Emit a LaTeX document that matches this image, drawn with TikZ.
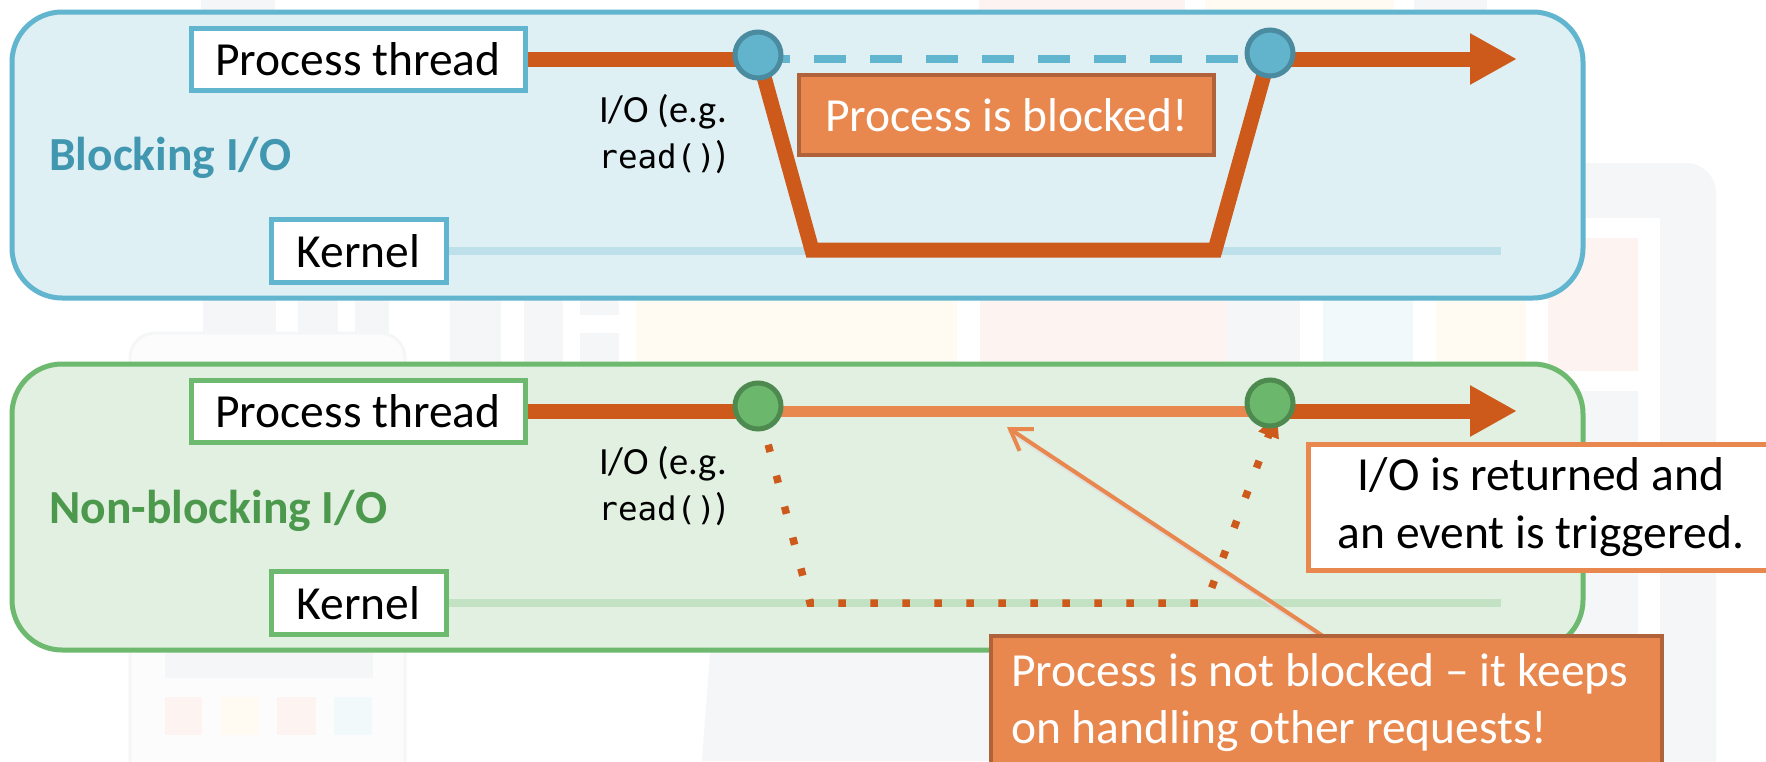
\documentclass[tikz,border=0pt]{standalone}
\usepackage{fontspec}
\setmainfont{Carlito}
\newfontfamily\monof{DejaVu Sans Mono}
\usetikzlibrary{arrows.meta}
\definecolor{pblue}{HTML}{62B5CE}
\definecolor{pbluefill}{HTML}{DFF0F4}
\definecolor{cblue}{HTML}{62B4CC}
\definecolor{cbluedark}{HTML}{4A8BA0}
\definecolor{pgreen}{HTML}{6DB96F}
\definecolor{pgreenfill}{HTML}{E1F0E1}
\definecolor{cgreen}{HTML}{6BB86C}
\definecolor{cgreendark}{HTML}{4E8A50}
\definecolor{dorange}{HTML}{CD5A1B}
\definecolor{lorange}{HTML}{E8884F}
\definecolor{borange}{HTML}{B0623A}
\definecolor{tblue}{HTML}{4197AF}
\definecolor{tgreen}{HTML}{4C994E}
\definecolor{kblue}{HTML}{BEE0EA}
\definecolor{kgreen}{HTML}{C3E2C4}
\definecolor{wmgray}{HTML}{F5F6F8}
\definecolor{wmcream}{HTML}{FFFBF2}
\definecolor{wmpink}{HTML}{FDF4F2}
\definecolor{wmblue}{HTML}{F1F9FB}
\definecolor{wmwhite}{HTML}{FCFCFC}
\pgfdeclarelayer{back}
\pgfdeclarelayer{lines}
\pgfsetlayers{back,lines,main}
\tikzset{
  bigfont/.style={font=\fontsize{47.5}{58}\selectfont},
  panel/.style={rounded corners=50pt, line width=5pt, inner sep=0pt},
  lbl/.style={draw, fill=white, line width=5pt, inner sep=0pt, bigfont},
  circ/.style={circle, minimum size=46pt, inner sep=0pt, line width=5pt},
  thick line/.style={dorange, line width=15pt},
  kline/.style={line width=8pt},
  obox/.style={draw=borange, fill=lorange, line width=4pt, text=white, bigfont},
  sidelabel/.style={font=\bfseries\fontsize{47.5}{56}\selectfont, anchor=base west, inner sep=0pt},
  iotext/.style={align=center, font=\fontsize{38.5}{46}\selectfont, inner sep=0pt},
}
\newcommand{\readcall}{{\monof\fontsize{32.5}{46}\selectfont read()}}
\begin{document}
\begin{tikzpicture}[x=1pt, y=-1pt]
\useasboundingbox (0,0) rectangle (1766,761);
\clip (0,0) rectangle (1766,761);
\begin{pgfonlayer}{back}
  \fill[white] (0,0) rectangle (1766,761);
  % faint background watermark
  \fill[wmgray] (201,0) rectangle (275,40);
  \fill[wmpink] (979,0) rectangle (1185,40);
  \fill[wmcream] (1205,0) rectangle (1394,40);
  \fill[wmgray] (1414,0) rectangle (1487,40);
  \fill[wmgray] (203,290) rectangle (276,380);
  \fill[wmgray] (298,290) rectangle (338,380);
  \fill[wmgray] (355,290) rectangle (389,380);
  \fill[wmgray] (450,290) rectangle (501,380);
  \fill[wmgray] (524,290) rectangle (563,380);
  \fill[wmgray] (580,290) rectangle (619,380);
  \fill[white] (580,315) rectangle (619,333);
  \fill[wmcream] (636,290) rectangle (957,380);
  \fill[wmpink] (980,290) rectangle (1227,380);
  \fill[wmgray] (1227,290) rectangle (1300,380);
  \fill[wmblue] (1323,290) rectangle (1413,380);
  \fill[wmcream] (1436,290) rectangle (1526,761);
  \fill[wmgray, rounded corners=30pt] (1547,163) rectangle (1716,800);
  \fill[white] (1527,218) rectangle (1660,800);
  \fill[wmpink] (1548,238) rectangle (1638,371);
  \fill[wmgray] (1548,391) rectangle (1638,800);
  \fill[wmgray] (711,640) -- (1716,640) -- (1716,761) -- (702,761) -- cycle;
  \filldraw[fill=wmwhite, draw=wmgray, line width=3pt, rounded corners=25pt] (130,333) rectangle (405,790);
  \fill[wmgray] (165,600) rectangle (373,678);
  \fill[wmpink] (165,697) rectangle (202,735);
  \fill[wmcream] (221,697) rectangle (259,735);
  \fill[wmpink] (277,697) rectangle (316,735);
  \fill[wmblue] (334,697) rectangle (372,735);
  % panels
  \node[panel, draw=pblue, fill=pbluefill, minimum width=1571pt, minimum height=286pt] (toppanel) at (797.5,155) {};
  \node[panel, draw=pgreen, fill=pgreenfill, minimum width=1571pt, minimum height=286pt] (botpanel) at (797.5,507) {};
\end{pgfonlayer}

% ---------- Blocking I/O ----------
\node[lbl, draw=pblue, minimum width=334pt, minimum height=62pt] (pt1) at (358,59) {Process thread};
\node[lbl, draw=pblue, minimum width=175pt, minimum height=63pt] (k1) at (358.5,251) {Kernel};
\node[sidelabel, text=tblue] (bl) at (49,170) {Blocking I/O};
\node[iotext] (io1) at (663,134) {I/O (e.g.\\\readcall)};
\node[circ, draw=cbluedark, fill=cblue] (c1) at (758,55) {};
\node[circ, draw=cbluedark, fill=cblue] (c2) at (1270,53) {};
\node[obox, minimum width=415pt, minimum height=80pt] (blk) at (1006.5,115) {Process is blocked!};
\coordinate (e1) at (1517,59);
\coordinate (kend1) at (1501,251);
\coordinate (b1) at (812,250);
\coordinate (b2) at (1215,250);

% ---------- Non-blocking I/O ----------
\node[lbl, draw=pgreen, minimum width=334pt, minimum height=62pt] (pt2) at (358,411) {Process thread};
\node[lbl, draw=pgreen, minimum width=175pt, minimum height=63pt] (k2) at (358.5,603) {Kernel};
\node[sidelabel, text=tgreen] (nbl) at (49,523) {Non-blocking I/O};
\node[iotext] (io2) at (663,486) {I/O (e.g.\\\readcall)};
\node[circ, draw=cgreendark, fill=cgreen] (c3) at (758,406) {};
\node[circ, draw=cgreendark, fill=cgreen] (c4) at (1270,403) {};
\coordinate (e2) at (1517,411);
\coordinate (kend2) at (1501,603);
\coordinate (d1) at (810,603);
\coordinate (d2) at (1206,603);
\coordinate (d3) at (1277,413);

\node[draw=lorange, fill=white, line width=5pt, minimum width=466pt, minimum height=126pt, align=center, bigfont, inner sep=0pt] (ret) at (1541,507) {I/O is returned and\\an event is triggered.};
\node[obox, anchor=north west, minimum width=671pt, minimum height=150pt, inner sep=0pt] (nb) at (989,634) {};
\node[anchor=north west, align=left, inner sep=0pt, text=white, font=\fontsize{47.5}{57}\selectfont] (nbtext) at (1011,653) {Process is not blocked – it keeps\\on handling other requests!};
\coordinate (pstart) at (1323,636);
\coordinate (ptip) at (1007,427);

\begin{pgfonlayer}{lines}
  % blocking
  \draw[kblue, kline] (k1.east) -- (kend1);
  \draw[thick line] (pt1.east) -- (pt1.east -| c1.center);
  \draw[pblue, line width=8pt, dash pattern=on 32pt off 24pt] (c1.center |- pt1.east) -- (c2.center |- pt1.east);
  \draw[thick line, line join=miter] (c1.center) -- (b1) -- (b2) -- (c2.center);
  \draw[thick line, -{Triangle[length=47pt,width=48pt]}] (c2.center |- e1) -- (e1);
  % non-blocking
  \draw[kgreen, kline] (k2.east) -- (kend2);
  \draw[thick line] (pt2.east) -- (pt2.east -| c3.center);
  \draw[lorange, line width=11pt] (c3.center |- pt2.east) -- (c4.center |- pt2.east);
  \draw[thick line, -{Triangle[length=47pt,width=48pt]}] (c4.center |- e2) -- (e2);
  \draw[dorange, line width=7.5pt, dash pattern=on 7.5pt off 24.5pt, dash phase=24pt, -{Triangle[length=24pt,width=20pt]}] (c3.center) -- (d1) -- (d2) -- (d3);
  % pointer (with faint shadow)
  \draw[black!12, line width=5pt, transform canvas={shift={(2pt,-3pt)}}] (pstart) -- (ptip);
  \draw[lorange, line width=4pt, -{Straight Barb[length=20pt,width=26pt]}] (pstart) -- (ptip);
\end{pgfonlayer}
\end{tikzpicture}
\end{document}
